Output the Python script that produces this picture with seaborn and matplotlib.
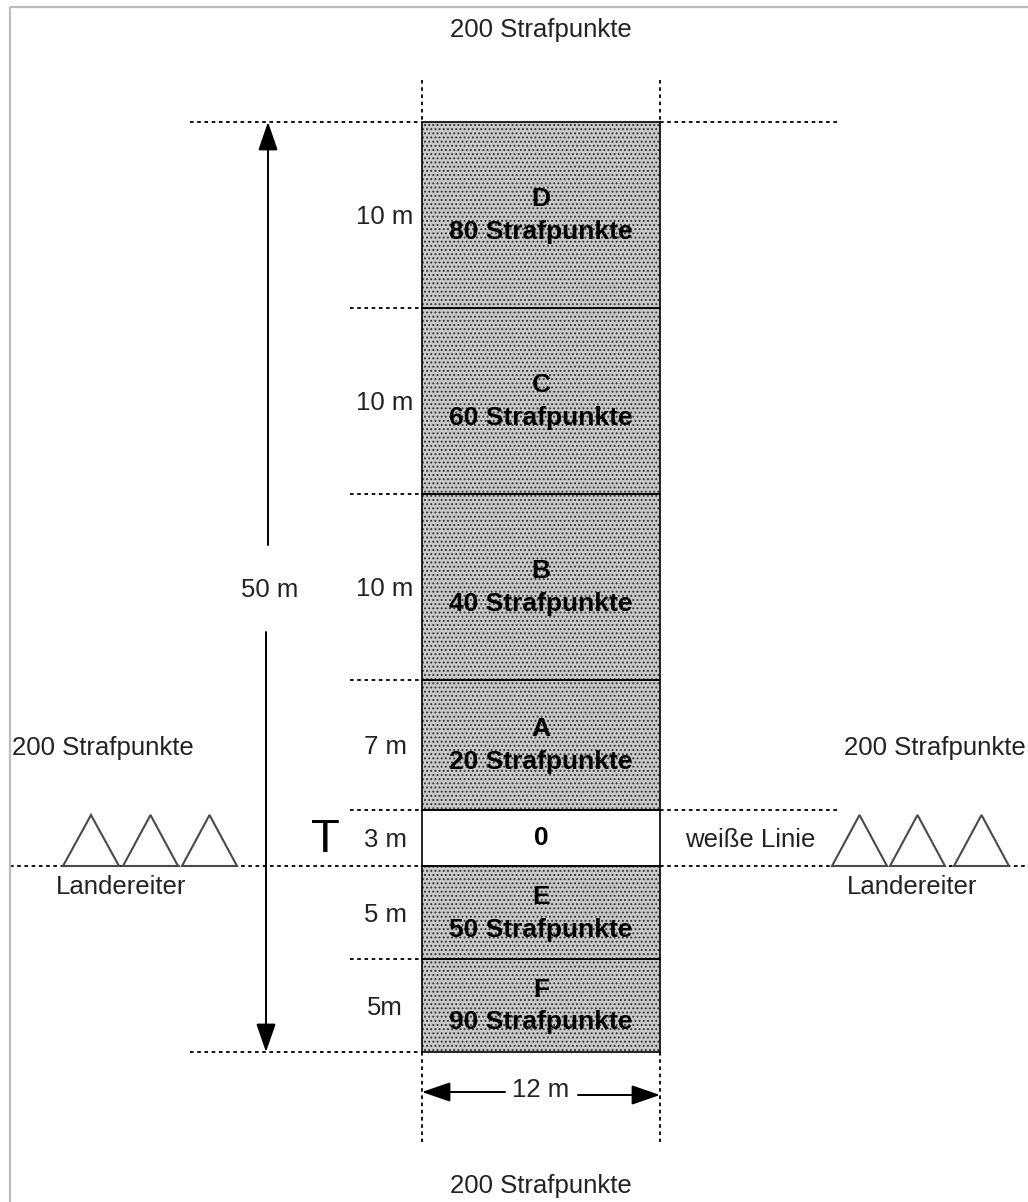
import matplotlib
matplotlib.use("Agg")
import matplotlib.pyplot as plt
import seaborn as sns
import numpy as np
from matplotlib.patches import Polygon

# ---- data ----
zone_names = ["D", "C", "B", "A", "0", "E", "F"]
zone_lengths_m = [10, 10, 10, 7, 3, 5, 5]
zone_points = [80, 60, 40, 20, 0, 50, 90]
zone_length_labels = ["10 m", "10 m", "10 m", "7 m", "3 m", "5 m", "5m"]
field_width_m = 12
field_length_m = 50
outside_points = 200
white_line_zone = "0"

sns.set_theme(style="white")
plt.rcParams["font.family"] = ["Liberation Sans Narrow", "Liberation Sans", "DejaVu Sans"]
plt.rcParams["hatch.linewidth"] = 0.9
plt.rcParams["hatch.color"] = "#333333"

W, H = 1028, 1202
fig = plt.figure(figsize=(W / 100, H / 100), dpi=100)
ax = fig.add_axes([0, 0, 1, 1])
ax.set_axis_off()

# pixel geometry of the field in the picture
FX0, FX1 = 422, 660
FY0, FY1 = 122, 1052
sx = (FX1 - FX0) / field_width_m
sy = (FY1 - FY0) / field_length_m
ax.set_xlim(-FX0 / sx, (W - FX0) / sx)
ax.set_ylim((H - FY0) / sy, -FY0 / sy)


def X(px):
    return (px - FX0) / sx


def Y(py):
    return (py - FY0) / sy


# border (top and left, grey)
ax.plot([X(10), X(W)], [Y(7), Y(7)], color="#bdbdbd", lw=1.6, solid_capstyle="butt")
ax.plot([X(10), X(10)], [Y(7), Y(H)], color="#bdbdbd", lw=1.6, solid_capstyle="butt")

FS = 18.5

# zones as stacked bars
bottoms = np.concatenate([[0], np.cumsum(zone_lengths_m)[:-1]])
for name, length, bottom, pts, lab in zip(zone_names, zone_lengths_m, bottoms,
                                          zone_points, zone_length_labels):
    is_white = name == white_line_zone
    ax.bar(field_width_m / 2, length, bottom=bottom, width=field_width_m,
           facecolor="white" if is_white else "#c9c9c9",
           hatch=None if is_white else "....",
           edgecolor="#333333", linewidth=0, zorder=2)
    ax.bar(field_width_m / 2, length, bottom=bottom, width=field_width_m,
           facecolor="none", edgecolor="black", linewidth=1.2, zorder=3)
    cy = bottom + length / 2
    if is_white:
        ax.text(field_width_m / 2, cy, str(pts), ha="center", va="center",
                fontsize=19, fontweight="bold", color="black", zorder=4)
    else:
        ax.text(field_width_m / 2, cy - 16 / sy, name, ha="center", va="center",
                fontsize=19, fontweight="bold", color="black", zorder=4)
        ax.text(field_width_m / 2, cy + 17 / sy, f"{pts} Strafpunkte", ha="center",
                va="center", fontsize=19, fontweight="bold", color="black", zorder=4)
    ax.text(X(385), cy + 2 / sy, lab, ha="center", va="center", fontsize=FS,
            color="#222222")

# dotted guide lines
dot = dict(color="black", lw=1.3, linestyle=(0, (2, 2)), zorder=1)
edges = np.concatenate([[0], np.cumsum(zone_lengths_m)])
white_idx = zone_names.index(white_line_zone)
landing_edge = edges[white_idx + 1]
for i, e in enumerate(edges):
    if i == 0 or i == len(edges) - 1:
        ax.plot([X(190), 0], [e, e], **dot)
        if i == 0:
            ax.plot([field_width_m, X(840)], [e, e], **dot)
    elif e == landing_edge:
        ax.plot([X(10), X(W)], [e, e], **dot)
    elif i == white_idx:
        ax.plot([X(350), 0], [e, e], **dot)
        ax.plot([field_width_m, X(840)], [e, e], **dot)
    else:
        ax.plot([X(350), 0], [e, e], **dot)
for xv in (0, field_width_m):
    ax.plot([xv, xv], [Y(80), 0], **dot)
    ax.plot([xv, xv], [field_length_m, Y(1142)], **dot)

# 50 m arrow
arr = dict(arrowstyle="-|>,head_length=1.1,head_width=0.38", color="black",
           lw=1.4, shrinkA=0, shrinkB=0, mutation_scale=16)
ax.annotate("", xy=(X(268), 0), xytext=(X(268), Y(545)), arrowprops=arr)
ax.annotate("", xy=(X(266), field_length_m), xytext=(X(266), Y(632)), arrowprops=arr)
ax.text(X(270), Y(590), f"{field_length_m} m", ha="center", va="center",
        fontsize=FS, color="#222222")

# 12 m arrow
ax.annotate("", xy=(0, Y(1092)), xytext=(X(505), Y(1092)), arrowprops=arr)
ax.annotate("", xy=(field_width_m, Y(1095)), xytext=(X(578), Y(1095)), arrowprops=arr)
ax.text(field_width_m / 2, Y(1090), f"{field_width_m} m", ha="center", va="center",
        fontsize=FS, color="#222222")

# penalty texts outside
txt = dict(fontsize=FS, color="#222222", va="center")
ax.text(X(541), Y(30), f"{outside_points} Strafpunkte", ha="center", **txt)
ax.text(X(541), Y(1186), f"{outside_points} Strafpunkte", ha="center", **txt)
ax.text(X(12), Y(748), f"{outside_points} Strafpunkte", ha="left", **txt)
ax.text(X(1026), Y(748), f"{outside_points} Strafpunkte", ha="right", **txt)

# T, white line label
ax.text(X(325), Y(840), "T", ha="center", va="center", fontsize=34,
        family=["Liberation Sans", "DejaVu Sans"], color="black")
ax.text(X(685), Y(840), "weiße Linie", ha="left", **txt)

# Landereiter triangles
tri_left = [(63, 119), (123, 178), (182, 237)]
tri_right = [(832, 887), (890, 945), (954, 1009)]
for x0, x1 in tri_left + tri_right:
    poly = Polygon([(X(x0), Y(866)), (X(x1), Y(866)), (X((x0 + x1) / 2), Y(815))],
                   closed=True, fill=False, edgecolor="#4a4a4a", lw=1.5, zorder=3)
    ax.add_patch(poly)
ax.text(X(121), Y(887), "Landereiter", ha="center", **txt)
ax.text(X(912), Y(887), "Landereiter", ha="center", **txt)

fig.savefig("out.png", dpi=100, facecolor="white")
